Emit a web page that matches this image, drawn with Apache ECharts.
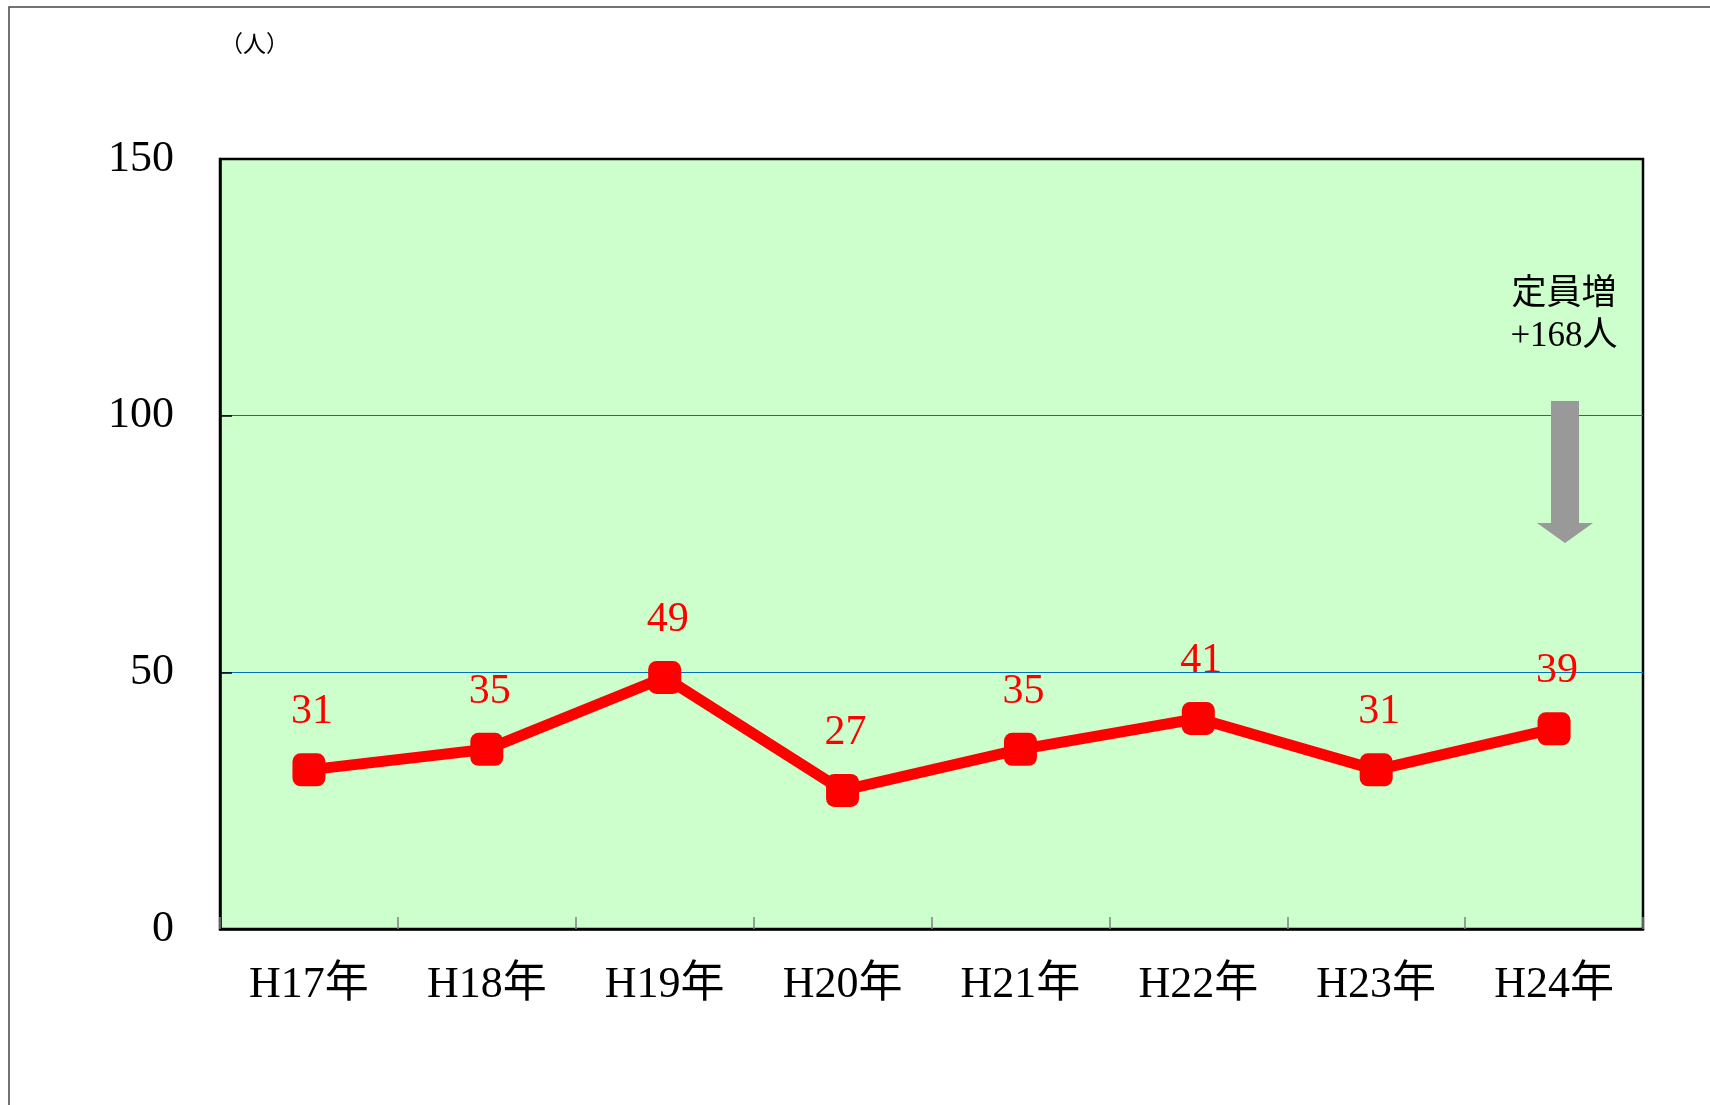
<!DOCTYPE html>
<html>
<head>
<meta charset="utf-8">
<script src="https://cdn.jsdelivr.net/npm/echarts@6/dist/echarts.min.js"></script>
<style>
html,body{margin:0;padding:0;background:#fff;}
#chart{width:1710px;height:1105px;}
</style>
</head>
<body>
<div id="chart"></div>
<script>
const categories = ['H17年','H18年','H19年','H20年','H21年','H22年','H23年','H24年'];
const values = [31, 35, 49, 27, 35, 41, 31, 39];
const yTicks = { min: 0, max: 150, interval: 50 };
const unitLabel = '（人）';
const noteText = '定員増\n+168人';

const FONT = '"Liberation Serif", "DejaVu Serif", "Noto Sans CJK JP", serif';
const chart = echarts.init(document.getElementById('chart'));
chart.setOption({
  animation: false,
  backgroundColor: '#ffffff',
  grid: {
    left: 220, top: 159, right: 67, bottom: 176,
    show: true, backgroundColor: '#ccffcc', borderColor: '#000', borderWidth: 2.5,
    containLabel: false
  },
  xAxis: {
    type: 'category',
    data: categories,
    boundaryGap: true,
    axisLine: { show: true, lineStyle: { color: '#000', width: 2.5 } },
    axisTick: { show: true, inside: true, length: 12, lineStyle: { color: '#808080', width: 1.5 } },
    axisLabel: { color: '#000', fontFamily: FONT, fontSize: 44, margin: 34 },
    splitLine: { show: false }
  },
  yAxis: {
    type: 'value',
    min: yTicks.min, max: yTicks.max, interval: yTicks.interval,
    axisLine: { show: true, lineStyle: { color: '#000', width: 2.5 } },
    axisTick: { show: true, inside: true, length: 12, lineStyle: { color: '#000', width: 1.5 } },
    axisLabel: { color: '#000', fontFamily: FONT, fontSize: 44, margin: 46, padding: [7, 0, 0, 0] },
    splitLine: { show: true, showMaxLine: false, showMinLine: false, lineStyle: { color: '#0070c0', width: 1.2 } }
  },
  series: [{
    type: 'line',
    data: values,
    symbol: 'roundRect',
    symbolSize: 33,
    lineStyle: { color: '#ff0000', width: 11 },
    itemStyle: { color: '#ff0000' },
    label: {
      show: true, position: 'top', distance: 20, offset: [3, 0],
      color: '#ff0000', fontFamily: FONT, fontSize: 42
    },
    z: 5
  }],
  graphic: [
    { type: 'rect', shape: { x: 9, y: 7, width: 1760, height: 1150 },
      style: { fill: 'none', stroke: '#444', lineWidth: 1.5 }, z: 0 },
    { type: 'text', left: 220, top: 34,
      style: { text: unitLabel, fontFamily: FONT, fontSize: 23, fill: '#000' } },
    { type: 'text', x: 1564, y: 274,
      style: { text: noteText, fontFamily: FONT, fontSize: 35, fill: '#000',
               align: 'center', verticalAlign: 'top', lineHeight: 42 }, z: 10 },
    { type: 'polygon',
      shape: { points: [[1551,401],[1579,401],[1579,523],[1593,523],[1565,543],[1537,523],[1551,523]] },
      style: { fill: '#999999', stroke: 'none' }, z: 10 }
  ]
});
</script>
</body>
</html>
